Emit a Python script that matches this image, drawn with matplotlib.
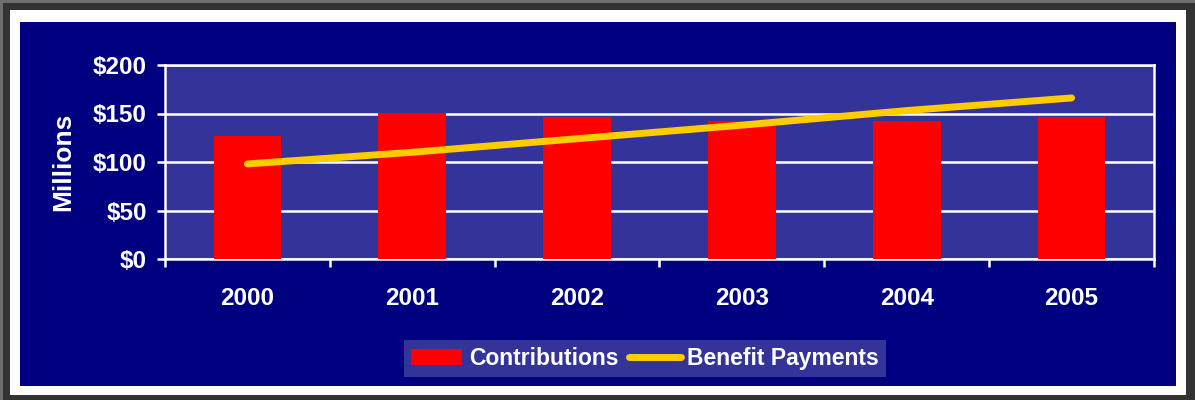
import matplotlib
matplotlib.use("Agg")
import matplotlib.pyplot as plt
from matplotlib.patches import Rectangle
from matplotlib.lines import Line2D
import numpy as np

years = ["2000", "2001", "2002", "2003", "2004", "2005"]
contributions = [127, 151, 146, 142, 142, 146]
benefit_payments = [98, 110, 124, 138, 153, 166]
yticks = [0, 50, 100, 150, 200]
ytick_labels = ["$0", "$50", "$100", "$150", "$200"]

W, H = 1195, 400
fig = plt.figure(figsize=(W / 100, H / 100), dpi=100)
fig.patch.set_facecolor("#333333")

def rect(x0, y0, x1, y1, color, z):
    fig.patches.append(Rectangle((x0 / W, 1 - y1 / H), (x1 - x0) / W, (y1 - y0) / H,
                                 transform=fig.transFigure, facecolor=color,
                                 edgecolor="none", zorder=z))

rect(0, 0, W, 3, "#6e6e6e", 0)
rect(0, 0, 3, H, "#6e6e6e", 0)
rect(10, 10, 1186, 395, "#ffffff", 1)
rect(20, 22, 1176, 386, "#000080", 2)

px0, px1, py0, py1 = 165, 1154, 65, 259
ax = fig.add_axes([px0 / W, 1 - py1 / H, (px1 - px0) / W, (py1 - py0) / H])
ax.set_facecolor("#333399")
ax.set_zorder(5)

x = np.arange(len(years))
bars = ax.bar(x, contributions, width=0.41, color="#ff0000", zorder=3)
line, = ax.plot(x, benefit_payments, color="#ffcc00", lw=5, solid_capstyle="round", zorder=4)

ax.set_xlim(-0.5, len(years) - 0.5)
ax.set_ylim(0, 200)
ax.set_yticks(yticks)
ax.set_yticklabels(ytick_labels)
ax.yaxis.grid(True, color="white", lw=1.8, zorder=1)
ax.set_axisbelow(True)

ax.set_xticks(x)
ax.set_xticklabels(years)
ax.set_xticks(np.arange(-0.5, len(years)), minor=True)
ax.tick_params(axis="x", which="major", length=0, pad=20)
ax.tick_params(axis="x", which="minor", length=6, width=1.8, color="white", direction="out")
ax.tick_params(axis="y", length=6, width=1.8, color="white", direction="out", pad=7)

for lab in ax.get_xticklabels() + ax.get_yticklabels():
    lab.set_color("white")
    lab.set_fontweight("bold")
    lab.set_fontsize(17.5)
    lab.set_family("Liberation Sans")

for s in ax.spines.values():
    s.set_color("white")
    s.set_linewidth(1.8)

fig.text(63 / W, 1 - 162 / H, "Millions", rotation=90, color="white", fontsize=19,
         fontweight="bold", family="Liberation Sans", ha="center", va="center")

handles = [Rectangle((0, 0), 1, 1, facecolor="#ff0000", edgecolor="none"),
           Line2D([0], [0], color="#ffcc00", lw=5, solid_capstyle="round")]
leg = fig.legend(handles, ["Contributions", "Benefit Payments"], loc="center",
                 bbox_to_anchor=(645 / W, 1 - 358.5 / H), ncol=2, frameon=True,
                 fancybox=False, facecolor="#333399", edgecolor="none", framealpha=1,
                 prop={"family": "Liberation Sans", "weight": "bold", "size": 16.5},
                 handlelength=2.25, handletextpad=0.3, columnspacing=0.45,
                 borderpad=0.3, handleheight=0.65, borderaxespad=0)
for t in leg.get_texts():
    t.set_color("white")
leg.set_zorder(10)

fig.savefig("out.png", dpi=100, facecolor=fig.get_facecolor())
